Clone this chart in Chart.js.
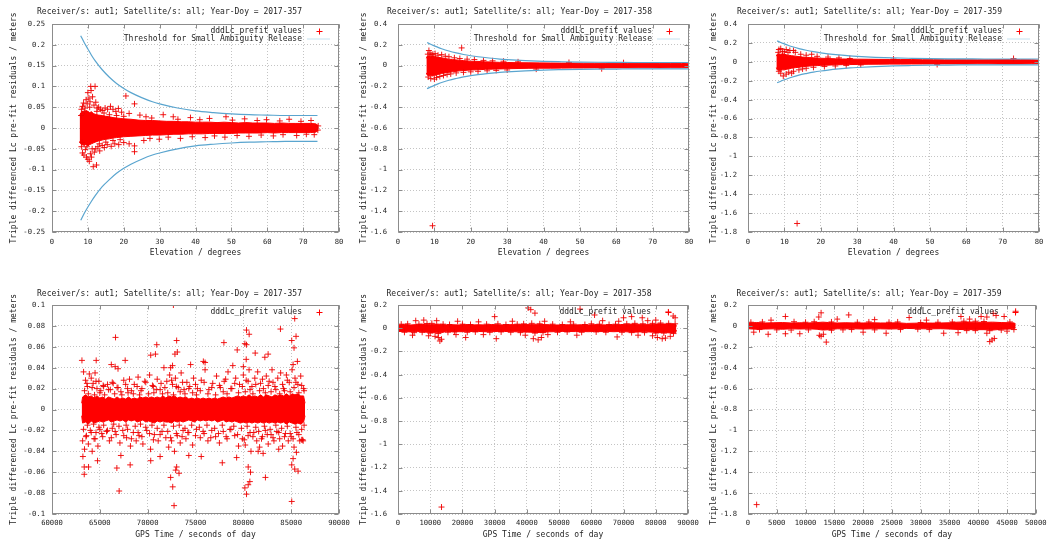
<!DOCTYPE html>
<html><head><meta charset="utf-8">
<script src="https://cdn.jsdelivr.net/npm/chart.js@4.4.1/dist/chart.umd.min.js"></script>
<style>
html,body{margin:0;padding:0;background:#fff;}
#wrap{position:relative;width:1051px;height:542px;overflow:hidden;background:#fff;}
canvas{position:absolute;}
</style></head><body><div id="wrap">
<canvas id="c1"></canvas><canvas id="c2"></canvas><canvas id="c3"></canvas>
<canvas id="c4"></canvas><canvas id="c5"></canvas><canvas id="c6"></canvas>
</div>
<script>
// ---------- titles ----------
const titles = [
  'Receiver/s: aut1; Satellite/s: all; Year-Doy = 2017-357',
  'Receiver/s: aut1; Satellite/s: all; Year-Doy = 2017-358',
  'Receiver/s: aut1; Satellite/s: all; Year-Doy = 2017-359'
];
const yAxisTitle = 'Triple differenced Lc pre-fit residuals / meters';
const xTitleElev = 'Elevation / degrees';
const xTitleTime = 'GPS Time / seconds of day';
const legendPoints = 'dddLc_prefit values';
const legendThreshold = 'Threshold for Small Ambiguity Release';

// ---------- tick values / labels ----------
const elevTicks = [0,10,20,30,40,50,60,70,80];
const elevTickLabels = ['0','10','20','30','40','50','60','70','80'];
const p1YTicks = [-0.25,-0.2,-0.15,-0.1,-0.05,0,0.05,0.1,0.15,0.2,0.25];
const p1YTickLabels = ['-0.25','-0.2','-0.15','-0.1','-0.05','0','0.05','0.1','0.15','0.2','0.25'];
const p2YTicks = [-1.6,-1.4,-1.2,-1,-0.8,-0.6,-0.4,-0.2,0,0.2,0.4];
const p2YTickLabels = ['-1.6','-1.4','-1.2','-1','-0.8','-0.6','-0.4','-0.2','0','0.2','0.4'];
const p3YTicks = [-1.8,-1.6,-1.4,-1.2,-1,-0.8,-0.6,-0.4,-0.2,0,0.2,0.4];
const p3YTickLabels = ['-1.8','-1.6','-1.4','-1.2','-1','-0.8','-0.6','-0.4','-0.2','0','0.2','0.4'];
const p4XTicks = [60000,65000,70000,75000,80000,85000,90000];
const p4XTickLabels = ['60000','65000','70000','75000','80000','85000','90000'];
const p4YTicks = [-0.1,-0.08,-0.06,-0.04,-0.02,0,0.02,0.04,0.06,0.08,0.1];
const p4YTickLabels = ['-0.1','-0.08','-0.06','-0.04','-0.02','0','0.02','0.04','0.06','0.08','0.1'];
const p5XTicks = [0,10000,20000,30000,40000,50000,60000,70000,80000,90000];
const p5XTickLabels = ['0','10000','20000','30000','40000','50000','60000','70000','80000','90000'];
const p5YTicks = [-1.6,-1.4,-1.2,-1,-0.8,-0.6,-0.4,-0.2,0,0.2];
const p5YTickLabels = ['-1.6','-1.4','-1.2','-1','-0.8','-0.6','-0.4','-0.2','0','0.2'];
const p6XTicks = [0,5000,10000,15000,20000,25000,30000,35000,40000,45000,50000];
const p6XTickLabels = ['0','5000','10000','15000','20000','25000','30000','35000','40000','45000','50000'];
const p6YTicks = [-1.8,-1.6,-1.4,-1.2,-1,-0.8,-0.6,-0.4,-0.2,0,0.2];
const p6YTickLabels = ['-1.8','-1.6','-1.4','-1.2','-1','-0.8','-0.6','-0.4','-0.2','0','0.2'];

// ---------- threshold curves (elevation panels) ----------
const thrX1 = [8,9,10,11,12,14,16,18,20,22,25,28,30,35,40,45,50,55,60,65,70,74];
const thrHi1 = [0.222,0.205,0.19,0.175,0.162,0.14,0.122,0.107,0.095,0.085,0.073,0.063,0.058,0.048,0.041,0.037,0.034,0.032,0.031,0.03,0.03,0.03];
const thrLo1 = [-0.222,-0.205,-0.19,-0.176,-0.163,-0.141,-0.124,-0.109,-0.097,-0.087,-0.075,-0.065,-0.06,-0.05,-0.043,-0.039,-0.036,-0.034,-0.033,-0.032,-0.032,-0.032];
const thrX2 = [8,9,10,11,12,14,16,18,20,22,25,28,30,35,40,45,50,55,60,65,70,75,80];
const thrHi2 = [0.222,0.205,0.19,0.175,0.162,0.14,0.122,0.107,0.095,0.085,0.073,0.063,0.058,0.048,0.041,0.037,0.034,0.032,0.031,0.03,0.03,0.03,0.03];
const thrLo2 = [-0.222,-0.205,-0.19,-0.176,-0.163,-0.141,-0.124,-0.109,-0.097,-0.087,-0.075,-0.065,-0.06,-0.05,-0.043,-0.039,-0.036,-0.034,-0.033,-0.032,-0.032,-0.032,-0.032];

// ---------- dense core of residuals: [x, upper, lower] ----------
const p1Band = [[7.7,0.03,-0.032],[8,0.036,-0.038],[8.5,0.04,-0.04],[9,0.038,-0.042],[9.5,0.042,-0.039],[10,0.04,-0.043],[10.5,0.037,-0.04],[11,0.039,-0.038],[11.5,0.035,-0.036],[12,0.033,-0.034],
 [13,0.031,-0.031],[14,0.03,-0.029],[15,0.028,-0.027],[16,0.027,-0.026],[17,0.025,-0.024],[18,0.024,-0.023],[19,0.023,-0.022],[20,0.022,-0.021],
 [22,0.021,-0.02],[24,0.019,-0.019],[26,0.018,-0.018],[28,0.018,-0.017],[30,0.017,-0.017],[32,0.016,-0.016],[34,0.016,-0.015],[36,0.015,-0.015],[38,0.015,-0.014],[40,0.014,-0.014],
 [42,0.014,-0.014],[44,0.014,-0.013],[46,0.013,-0.013],[48,0.014,-0.013],[50,0.013,-0.013],[52,0.012,-0.012],[54,0.013,-0.012],[56,0.012,-0.012],[58,0.012,-0.012],[60,0.012,-0.011],
 [62,0.011,-0.012],[64,0.012,-0.011],[66,0.011,-0.011],[68,0.011,-0.011],[70,0.011,-0.011],[72,0.011,-0.011],[73.5,0.01,-0.01],[74.2,0.006,-0.006]];
const p2Band = [[7.8,0.07,-0.07],[8,0.09,-0.09],[8.5,0.095,-0.1],[9,0.09,-0.095],[9.5,0.095,-0.1],[10,0.09,-0.095],[10.5,0.085,-0.09],[11,0.08,-0.085],[12,0.075,-0.075],[13,0.068,-0.07],
 [14,0.062,-0.065],[15,0.058,-0.06],[16,0.055,-0.055],[17,0.052,-0.05],[18,0.048,-0.048],[19,0.045,-0.045],[20,0.042,-0.043],[22,0.04,-0.04],[24,0.036,-0.036],[26,0.034,-0.034],
 [28,0.031,-0.032],[30,0.03,-0.03],[33,0.028,-0.028],[36,0.027,-0.026],[39,0.026,-0.025],[42,0.025,-0.025],[45,0.024,-0.024],[48,0.024,-0.023],[51,0.023,-0.023],[54,0.023,-0.022],
 [57,0.022,-0.022],[60,0.022,-0.022],[63,0.021,-0.022],[66,0.022,-0.021],[69,0.021,-0.021],[72,0.021,-0.022],[75,0.021,-0.021],[78,0.021,-0.021],[79.8,0.018,-0.018]];
const p3Band = [[7.8,0.06,-0.06],[8,0.08,-0.085],[8.5,0.085,-0.09],[9,0.08,-0.09],[9.5,0.085,-0.085],[10,0.08,-0.085],[10.5,0.075,-0.08],[11,0.07,-0.075],[12,0.065,-0.068],[13,0.06,-0.062],
 [14,0.055,-0.057],[15,0.05,-0.052],[16,0.048,-0.048],[17,0.045,-0.045],[18,0.043,-0.042],[19,0.04,-0.04],[20,0.038,-0.038],[22,0.035,-0.035],[24,0.032,-0.032],[26,0.03,-0.03],
 [28,0.029,-0.029],[30,0.028,-0.028],[33,0.027,-0.026],[36,0.026,-0.025],[39,0.025,-0.024],[42,0.024,-0.024],[45,0.024,-0.023],[48,0.023,-0.023],[51,0.023,-0.022],[54,0.022,-0.022],
 [57,0.022,-0.022],[60,0.022,-0.022],[63,0.021,-0.021],[66,0.022,-0.021],[69,0.023,-0.022],[72,0.024,-0.023],[75,0.022,-0.022],[78,0.021,-0.021],[79.8,0.018,-0.018]];
const p4Band = [[63100,0.006,-0.006],[63200,0.012,-0.013],[63500,0.014,-0.012],[63800,0.012,-0.014],[64100,0.013,-0.011],[64400,0.011,-0.013],[64700,0.013,-0.012],[65000,0.011,-0.011],
 [65300,0.012,-0.012],[65600,0.01,-0.011],[65900,0.012,-0.01],[66200,0.011,-0.012],[66500,0.01,-0.011],[66800,0.012,-0.01],[67100,0.01,-0.011],[67400,0.011,-0.01],[67700,0.01,-0.012],
 [68000,0.012,-0.01],[68300,0.01,-0.011],[68600,0.011,-0.01],[68900,0.01,-0.012],[69200,0.012,-0.011],[69500,0.011,-0.01],[69800,0.012,-0.012],[70100,0.011,-0.011],[70400,0.012,-0.012],
 [70700,0.011,-0.013],[71000,0.012,-0.011],[71300,0.011,-0.012],[71600,0.013,-0.011],[71900,0.011,-0.012],[72200,0.013,-0.012],[72500,0.012,-0.013],[72800,0.013,-0.011],[73100,0.011,-0.012],
 [73400,0.012,-0.011],[73700,0.011,-0.012],[74000,0.012,-0.011],[74300,0.01,-0.01],[74600,0.011,-0.011],[74900,0.01,-0.012],[75200,0.011,-0.01],[75500,0.01,-0.011],[75800,0.011,-0.01],
 [76100,0.01,-0.011],[76400,0.011,-0.01],[76700,0.01,-0.011],[77000,0.011,-0.01],[77300,0.01,-0.012],[77600,0.011,-0.011],[77900,0.012,-0.01],[78200,0.011,-0.012],[78500,0.012,-0.011],
 [78800,0.011,-0.012],[79100,0.012,-0.011],[79400,0.013,-0.012],[79700,0.012,-0.013],[80000,0.013,-0.012],[80300,0.012,-0.013],[80600,0.014,-0.012],[80900,0.012,-0.013],[81200,0.013,-0.012],
 [81500,0.012,-0.013],[81800,0.014,-0.012],[82100,0.012,-0.013],[82400,0.014,-0.012],[82700,0.013,-0.013],[83000,0.012,-0.012],[83300,0.014,-0.013],[83600,0.013,-0.012],[83900,0.014,-0.013],
 [84200,0.013,-0.012],[84500,0.015,-0.014],[84800,0.013,-0.012],[85100,0.015,-0.013],[85400,0.014,-0.014],[85700,0.015,-0.013],[86000,0.013,-0.014],[86300,0.013,-0.012],[86450,0.006,-0.006]];
const p5Band = [[0,0.015,-0.015],[300,0.028,-0.028],[2000,0.032,-0.028],[4000,0.028,-0.032],[6000,0.032,-0.028],[8000,0.036,-0.033],[10000,0.033,-0.036],[12000,0.036,-0.04],[13500,0.033,-0.038],
 [15000,0.028,-0.028],[17000,0.03,-0.028],[19000,0.028,-0.03],[21000,0.032,-0.03],[23000,0.028,-0.028],[25000,0.03,-0.028],[27000,0.028,-0.03],[29000,0.032,-0.03],[31000,0.03,-0.028],
 [33000,0.028,-0.028],[35000,0.031,-0.029],[37000,0.03,-0.031],[39000,0.032,-0.032],[41000,0.033,-0.034],[43000,0.035,-0.038],[45000,0.032,-0.034],[47000,0.03,-0.031],[49000,0.028,-0.029],
 [51000,0.028,-0.028],[53000,0.03,-0.028],[55000,0.028,-0.029],[57000,0.03,-0.028],[59000,0.028,-0.03],[61000,0.031,-0.028],[63000,0.029,-0.029],[65000,0.028,-0.028],[67000,0.03,-0.03],
 [69000,0.031,-0.028],[71000,0.034,-0.031],[73000,0.036,-0.034],[75000,0.034,-0.032],[77000,0.033,-0.031],[79000,0.034,-0.034],[81000,0.038,-0.038],[83000,0.036,-0.038],[85000,0.038,-0.041],
 [86200,0.034,-0.038],[86400,0.015,-0.015]];
const p6Band = [[0,0.015,-0.015],[200,0.028,-0.028],[1500,0.032,-0.032],[3000,0.028,-0.03],[4500,0.03,-0.028],[6000,0.032,-0.032],[7500,0.028,-0.028],[9000,0.03,-0.03],[10500,0.028,-0.028],
 [12000,0.032,-0.032],[13000,0.036,-0.04],[14000,0.032,-0.036],[15500,0.028,-0.028],[17000,0.03,-0.028],[18500,0.028,-0.028],[20000,0.028,-0.03],[21500,0.03,-0.028],[23000,0.028,-0.028],
 [24500,0.028,-0.03],[26000,0.03,-0.028],[27500,0.024,-0.024],[29000,0.026,-0.026],[30500,0.028,-0.028],[32000,0.027,-0.028],[33500,0.028,-0.027],[35000,0.03,-0.03],[36500,0.036,-0.034],
 [38000,0.038,-0.036],[39500,0.036,-0.036],[41000,0.034,-0.036],[42500,0.036,-0.04],[44000,0.032,-0.032],[45500,0.03,-0.03],[46300,0.028,-0.028],[46500,0.015,-0.015]];

// ---------- individual residual points: [x, y] ----------
const p1Scatter = [[8.2,0.045],[8.5,0.052],[8.8,0.06],[9.2,0.048],[9.5,0.068],[9.8,0.058],[10,0.085],[10.3,0.072],[10.6,0.063],[10.9,0.09],[10.8,0.1],[12,0.1],[11.3,0.075],[11.7,0.055],
 [12.2,0.062],[12.6,0.048],[13,0.05],[13.5,0.045],[14,0.042],[14.8,0.048],[15.5,0.045],[16.3,0.052],[17,0.045],[17.8,0.04],[18.5,0.047],[19.4,0.038],[20.6,0.077],[21.5,0.035],[23,0.058],
 [24.5,0.031],[26.2,0.027],[27.8,0.024],[31,0.032],[33.8,0.027],[35.1,0.021],[38.6,0.025],[41.2,0.02],[43.9,0.023],[48.5,0.027],[50.3,0.019],[53.7,0.022],[57.2,0.018],[59.8,0.02],
 [63.5,0.017],[66.1,0.021],[69.4,0.016],[72.2,0.018],
 [8.2,-0.045],[8.5,-0.06],[8.9,-0.065],[9.3,-0.052],[9.6,-0.07],[10,-0.075],[10.4,-0.08],[10.7,-0.062],[11,-0.07],[11.5,-0.093],[12.4,-0.089],[11.8,-0.058],[12.2,-0.05],[12.8,-0.045],
 [13.3,-0.055],[14,-0.042],[14.6,-0.047],[15.4,-0.04],[16.5,-0.044],[17.5,-0.038],[18.6,-0.04],[20,-0.035],[21.5,-0.038],[23,-0.043],[23,-0.057],
 [25.6,-0.03],[27.3,-0.025],[29.9,-0.027],[32.4,-0.022],[35.8,-0.025],[39.1,-0.021],[42.7,-0.023],[45.3,-0.019],[48.2,-0.022],[51.6,-0.018],[54.9,-0.02],[58.3,-0.017],[61.7,-0.019],
 [64.4,-0.016],[68.2,-0.018],[70.9,-0.015],[73.1,-0.016],[74.2,0.005],[74.1,-0.005],
 [8.1,0.03],[8.4,-0.035],[9,0.04],[9.7,-0.045],[10.5,0.05],[11.2,-0.05],[12.5,0.04],[13.2,-0.038],[14.5,0.036],[15,-0.034],[16,0.032],[17,-0.03],[18,0.03],[19,-0.028],[20,0.028]];
const p2Scatter = [[8.2,0.11],[8.5,0.145],[8.8,0.12],[9.1,0.105],[9.6,0.11],[10.2,0.115],[11,0.1],[12,0.105],[13,0.09],[14,0.085],[15.5,0.075],[17.5,0.17],[17,0.068],[19,0.062],
 [21,0.058],[23.5,0.05],[26,0.046],[29,0.042],[33,0.036],[47,0.03],[62,0.028],
 [8.3,-0.11],[9,-0.125],[9.5,-1.54],[10,-0.13],[10.6,-0.115],[11.5,-0.105],[12.5,-0.095],[13.5,-0.085],[14.5,-0.08],[16,-0.07],[18,-0.065],[20,-0.06],[22,-0.055],[24.5,-0.05],
 [27,-0.046],[30,-0.042],[38,-0.034],[56,-0.03]];
const p3Scatter = [[8.3,0.1],[8.5,0.13],[9,0.14],[9.5,0.11],[10,0.105],[10.5,0.13],[11,0.1],[11.5,0.12],[12.5,0.12],[13,0.1],[14.5,0.08],[17.5,0.08],[16,0.07],[19,0.058],[22,0.05],
 [25,0.042],[28,0.035],[40,0.029],[73,0.035],
 [8.5,-0.1],[9,-0.12],[9.7,-0.15],[10.5,-0.13],[11.2,-0.11],[12,-0.12],[12.5,-0.1],[13.5,-1.71],[14,-0.085],[15,-0.075],[16,-0.068],[18,-0.058],[21,-0.05],[24,-0.044],
 [27,-0.038],[31,-0.033],[52,-0.028]];
const p4Outliers = [[63130,0.047],[64620,0.047],[66640,0.069],[66200,0.043],[66600,0.041],[66900,0.039],[67650,0.047],[70320,0.052],[70810,0.053],[70950,0.062],[72690,0.1],[73030,0.066],
 [72850,0.053],[73100,0.055],[72400,0.04],[72600,0.042],[74490,0.043],[75820,0.046],[76000,0.045],[77970,0.064],[79360,0.057],[78900,0.042],[80160,0.063],[80330,0.062],[80330,0.076],
 [80610,0.072],[80300,0.048],[80000,0.041],[81240,0.054],[82250,0.05],[82590,0.053],[83880,0.077],[85060,0.066],[85300,0.059],[85370,0.087],[85510,0.07],[85650,0.046],[85200,0.043],
 [63370,-0.062],[63370,-0.055],[63820,-0.055],[63230,-0.045],[64760,-0.049],[66780,-0.056],[67020,-0.078],[67200,-0.044],[68170,-0.053],[70320,-0.049],[71300,-0.045],[72400,-0.065],
 [72620,-0.074],[72760,-0.092],[73030,-0.055],[72930,-0.058],[73280,-0.061],[74300,-0.044],[75600,-0.045],[77800,-0.051],[79300,-0.046],[80160,-0.075],[80330,-0.081],[80510,-0.072],
 [80680,-0.069],[80510,-0.055],[80750,-0.06],[81550,-0.04],[82310,-0.065],[82070,-0.042],[83700,-0.038],[85060,-0.088],[85060,-0.053],[85370,-0.057],[85720,-0.059],[85200,-0.047],
 [85550,-0.041],[86100,-0.029],[86250,-0.03]];
const p4Spread = [[63300,0.036],[63500,0.028],[63700,0.022],[63900,0.034],[64100,0.03],[64300,0.025],[64500,0.035],[64700,0.02],[64900,0.027],[65100,0.018],[65400,0.022],[65800,0.024],[66100,0.019],
 [66400,0.025],[66900,0.021],[67200,0.017],[67500,0.028],[67900,0.02],[68300,0.018],[68600,0.024],[69000,0.031],[69400,0.02],[69800,0.026],[70200,0.033],[70600,0.022],[71000,0.029],
 [71300,0.019],[71700,0.04],[72000,0.027],[72300,0.033],[72600,0.024],[72900,0.03],[73200,0.021],[73500,0.035],[73800,0.019],[74100,0.026],[74400,0.022],[74800,0.03],[75200,0.02],
 [75600,0.028],[76000,0.038],[76400,0.019],[76800,0.025],[77200,0.032],[77600,0.021],[78000,0.027],[78400,0.036],[78800,0.02],[79200,0.03],[79600,0.024],[80000,0.033],[80300,0.028],
 [80600,0.038],[80900,0.022],[81200,0.03],[81500,0.036],[81800,0.025],[82100,0.02],[82400,0.032],[82700,0.027],[83000,0.038],[83300,0.022],[83600,0.03],[83900,0.035],[84200,0.02],
 [84500,0.033],[84800,0.026],[85100,0.038],[85400,0.03],[85700,0.024],[86000,0.032],[86300,0.02],
 [63200,-0.03],[63400,-0.038],[63600,-0.025],[63800,-0.033],[64000,-0.02],[64200,-0.04],[64400,-0.028],[64600,-0.022],[64800,-0.035],[65000,-0.019],[65300,-0.026],[65700,-0.021],
 [66000,-0.03],[66300,-0.018],[66700,-0.024],[67100,-0.032],[67400,-0.02],[67800,-0.027],[68200,-0.035],[68500,-0.022],[68800,-0.03],[69100,-0.025],[69500,-0.033],[69900,-0.02],
 [70300,-0.038],[70700,-0.024],[71100,-0.03],[71500,-0.021],[71900,-0.027],[72200,-0.036],[72500,-0.03],[72800,-0.04],[73100,-0.025],[73400,-0.032],[73700,-0.02],[74000,-0.028],
 [74300,-0.022],[74700,-0.034],[75100,-0.019],[75500,-0.027],[75900,-0.023],[76300,-0.03],[76700,-0.02],[77100,-0.026],[77500,-0.032],[77900,-0.021],[78300,-0.028],[78700,-0.019],
 [79100,-0.025],[79500,-0.035],[79900,-0.028],[80200,-0.034],[80500,-0.025],[80800,-0.04],[81100,-0.022],[81400,-0.03],[81700,-0.036],[82000,-0.026],[82300,-0.02],[82600,-0.033],
 [82900,-0.024],[83200,-0.03],[83500,-0.021],[83800,-0.028],[84100,-0.035],[84400,-0.023],[84700,-0.03],[85000,-0.026],[85300,-0.036],[85600,-0.022],[85900,-0.03],[86200,-0.029]];
const p4Edge = [[63400,0.018],[63650,0.025],[63800,0.015],[64200,0.021],[64450,0.014],[64600,0.027],[65000,0.016],[65350,0.023],[65500,0.014],[65900,0.019],[66300,0.026],[66550,0.015],
 [66800,0.021],[67300,0.014],[67700,0.024],[67950,0.016],[68100,0.029],[68500,0.015],[68900,0.022],[69150,0.014],[69300,0.018],[69700,0.027],[70100,0.015],[70500,0.023],[70650,0.016],
 [70900,0.019],[71400,0.025],[71550,0.015],[71800,0.021],[72100,0.016],[72500,0.028],[72700,0.014],[73000,0.022],[73400,0.017],[73650,0.026],[73900,0.015],[74300,0.02],[74700,0.016],
 [75000,0.024],[75100,0.014],[75500,0.018],[75900,0.026],[76300,0.015],[76700,0.021],[77100,0.014],[77500,0.023],[77900,0.017],[78150,0.029],[78300,0.015],[78700,0.02],[79100,0.025],
 [79500,0.016],[79900,0.022],[80200,0.017],[80500,0.027],[80700,0.019],[81000,0.015],[81300,0.024],[81700,0.018],[82000,0.029],[82300,0.016],[82600,0.023],[82900,0.017],[83100,0.026],
 [83400,0.019],[83800,0.015],[84100,0.024],[84300,0.018],[84600,0.028],[84900,0.017],[85300,0.021],[85500,0.026],[85800,0.016],[86100,0.023],[86350,0.018],
 [63300,-0.019],[63550,-0.026],[63700,-0.015],[64100,-0.022],[64350,-0.014],[64500,-0.028],[64900,-0.017],[65200,-0.023],[65400,-0.015],[65800,-0.02],[66200,-0.027],[66450,-0.014],
 [66600,-0.021],[67000,-0.016],[67500,-0.025],[67750,-0.015],[67900,-0.019],[68300,-0.028],[68700,-0.016],[69000,-0.022],[69250,-0.014],[69400,-0.026],[69800,-0.017],[70200,-0.023],
 [70450,-0.015],[70600,-0.029],[71000,-0.018],[71300,-0.024],[71700,-0.015],[72100,-0.021],[72400,-0.027],[72700,-0.016],[73000,-0.023],[73300,-0.015],[73600,-0.026],[73900,-0.018],
 [74200,-0.022],[74600,-0.015],[75000,-0.025],[75400,-0.017],[75800,-0.021],[76200,-0.015],[76600,-0.027],[77000,-0.018],[77400,-0.023],[77800,-0.015],[78200,-0.026],[78600,-0.019],
 [79000,-0.016],[79400,-0.024],[79800,-0.018],[80100,-0.029],[80400,-0.016],[80700,-0.022],[81000,-0.026],[81300,-0.017],[81600,-0.021],[81900,-0.028],[82200,-0.016],[82500,-0.024],
 [82800,-0.019],[83100,-0.027],[83400,-0.015],[83700,-0.022],[84000,-0.018],[84300,-0.026],[84600,-0.016],[84900,-0.023],[85200,-0.028],[85500,-0.017],[85800,-0.024],[86100,-0.019],
 [86350,-0.015]];
const p5Scatter = [[13500,-1.54],[40400,0.175],[41200,0.16],[42500,0.13],[56500,0.165],[61000,0.114],[83900,0.14],[85400,0.105],[86000,0.09],[30000,0.1],[72500,0.1],[70000,0.09],
 [75800,0.09],[13000,-0.11],[13500,-0.095],[12500,-0.08],[21000,-0.08],[43500,-0.1],[42000,-0.09],[44500,-0.08],[30500,-0.09],[68000,-0.075],[80500,-0.08],[82000,-0.09],[83000,-0.085],
 [5500,0.065],[8000,0.07],[12000,0.065],[18500,0.06],[25000,0.055],[35500,0.06],[45500,0.06],[53500,0.055],[63500,0.065],[68500,0.06],[77500,0.065],[80000,0.07],
 [4500,-0.06],[9500,-0.065],[11500,-0.07],[18000,-0.055],[26500,-0.055],[39500,-0.06],[46500,-0.055],[55500,-0.06],[74500,-0.06],[79000,-0.065],[84500,-0.07],
 [1000,0.035],[3000,0.038],[6500,0.035],[9000,0.04],[10500,0.042],[14000,0.035],[16000,0.032],[20000,0.035],[22500,0.032],[27500,0.035],[31000,0.038],[33500,0.032],[37000,0.035],
 [39000,0.038],[41500,0.042],[44000,0.038],[48000,0.035],[51000,0.032],[54500,0.035],[58000,0.032],[60000,0.038],[62500,0.035],[65500,0.032],[67500,0.035],[71000,0.038],[73500,0.042],
 [76000,0.038],[79000,0.042],[81500,0.045],[84000,0.042],[86000,0.038],
 [2000,-0.035],[5000,-0.038],[7500,-0.035],[10000,-0.042],[12500,-0.046],[15500,-0.035],[17500,-0.032],[21500,-0.035],[24000,-0.032],[28500,-0.035],[32000,-0.032],[35000,-0.035],
 [38000,-0.038],[42500,-0.042],[45000,-0.038],[49500,-0.035],[52500,-0.032],[57000,-0.035],[61500,-0.032],[64500,-0.035],[69500,-0.035],[72500,-0.038],[76500,-0.038],[80000,-0.042],
 [82500,-0.042],[85500,-0.046]];
const p6Scatter = [[1500,-1.71],[46500,0.14],[12700,0.125],[12300,0.085],[17500,0.105],[13600,-0.155],[12700,-0.1],[13100,-0.08],[12400,-0.09],[42000,-0.15],[42400,-0.135],[42800,-0.12],
 [42600,0.12],[43100,0.1],[40500,0.09],[41500,0.085],[37000,0.09],[44500,0.09],[6500,0.09],[28000,0.08],[6500,-0.075],[3500,-0.08],[9000,-0.075],[24000,-0.07],[1000,-0.06],
 [34000,-0.07],[20000,-0.06],[41500,-0.07],[36500,-0.065],[45000,-0.05],[15500,0.065],[4000,0.055],[22000,0.06],[31000,0.055],[38500,0.065],
 [500,0.035],[2500,0.038],[8000,0.04],[10000,0.035],[11500,0.04],[14500,0.038],[19000,0.035],[21000,0.038],[24500,0.035],[26000,0.038],[30000,0.032],[33000,0.035],[35500,0.038],
 [37500,0.045],[39500,0.045],[41000,0.042],[45500,0.038],
 [2000,-0.035],[5000,-0.038],[7500,-0.04],[10500,-0.038],[14500,-0.042],[16500,-0.038],[18000,-0.035],[22000,-0.038],[26500,-0.035],[29500,-0.032],[31500,-0.035],[38000,-0.045],
 [39500,-0.045],[42000,-0.046],[44000,-0.04],[46200,-0.035]];

// ---------- drawing ----------
const FONT_FAMILY = "'DejaVu Sans Mono', 'Liberation Mono', monospace";
const TXT = '#1e1e1e';
const RED = '#ff0000';
const THR_COLOR = '#5aa5cf';
const GRID = '#c4c4c4';
const FRAME = '#8c8c8c';

const panels = [
  {id:'c1', left:0, top:0, w:360, h:270, area:{l:52,r:339,t:24,b:232}, title:titles[0], xTitle:xTitleElev,
   xMin:0, xMax:80, xTicks:elevTicks, xLabels:elevTickLabels, yMin:-0.25, yMax:0.25, yTicks:p1YTicks, yLabels:p1YTickLabels,
   band:p1Band, scatter:[p1Scatter], thr:[thrX1,thrHi1,thrLo1], legend:[legendPoints, legendThreshold], yPad:7},
  {id:'c2', left:350, top:0, w:360, h:270, area:{l:48,r:339,t:24,b:232}, title:titles[1], xTitle:xTitleElev,
   xMin:0, xMax:80, xTicks:elevTicks, xLabels:elevTickLabels, yMin:-1.6, yMax:0.4, yTicks:p2YTicks, yLabels:p2YTickLabels,
   band:p2Band, scatter:[p2Scatter], thr:[thrX2,thrHi2,thrLo2], legend:[legendPoints, legendThreshold], yPad:11},
  {id:'c3', left:700, top:0, w:351, h:270, area:{l:48,r:339,t:24,b:232}, title:titles[2], xTitle:xTitleElev,
   xMin:0, xMax:80, xTicks:elevTicks, xLabels:elevTickLabels, yMin:-1.8, yMax:0.4, yTicks:p3YTicks, yLabels:p3YTickLabels,
   band:p3Band, scatter:[p3Scatter], thr:[thrX2,thrHi2,thrLo2], legend:[legendPoints, legendThreshold], yPad:11},
  {id:'c4', left:0, top:272, w:360, h:270, area:{l:52,r:339,t:33,b:242}, title:titles[0], xTitle:xTitleTime,
   xMin:60000, xMax:90000, xTicks:p4XTicks, xLabels:p4XTickLabels, yMin:-0.1, yMax:0.1, yTicks:p4YTicks, yLabels:p4YTickLabels,
   band:p4Band, scatter:[p4Outliers, p4Spread, p4Edge], thr:null, legend:[legendPoints], yPad:7},
  {id:'c5', left:350, top:272, w:360, h:270, area:{l:48,r:338,t:33,b:242}, title:titles[1], xTitle:xTitleTime,
   xMin:0, xMax:90000, xTicks:p5XTicks, xLabels:p5XTickLabels, yMin:-1.6, yMax:0.2, yTicks:p5YTicks, yLabels:p5YTickLabels,
   band:p5Band, scatter:[p5Scatter], thr:null, legend:[legendPoints], yPad:11},
  {id:'c6', left:700, top:272, w:351, h:270, area:{l:48,r:338,t:33,b:242}, title:titles[2], xTitle:xTitleTime,
   xMin:0, xMax:50000, xTicks:p6XTicks, xLabels:p6XTickLabels, yMin:-1.8, yMax:0.2, yTicks:p6YTicks, yLabels:p6YTickLabels,
   band:p6Band, scatter:[p6Scatter], thr:null, legend:[legendPoints], yPad:11}
];

const framePlugin = {
  id:'frame',
  afterDatasetsDraw(chart){
    const {ctx, chartArea:a, scales:{x,y}} = chart;
    ctx.save();
    ctx.strokeStyle = FRAME; ctx.lineWidth = 1;
    const L = Math.round(a.left)+0.5, R = Math.round(a.right)-0.5, T = Math.round(a.top)+0.5, B = Math.round(a.bottom)-0.5;
    ctx.strokeRect(L, T, R-L, B-T);
    ctx.beginPath();
    x.ticks.forEach(t => {
      const px = Math.round(x.getPixelForValue(t.value))+0.5;
      ctx.moveTo(px, B); ctx.lineTo(px, B-4);
      ctx.moveTo(px, T); ctx.lineTo(px, T+4);
    });
    y.ticks.forEach(t => {
      const py = Math.round(y.getPixelForValue(t.value))+0.5;
      ctx.moveTo(L, py); ctx.lineTo(L+4, py);
      ctx.moveTo(R, py); ctx.lineTo(R-4, py);
    });
    ctx.stroke();
    ctx.restore();
  }
};

function makeLegendPlugin(p){
  return {
    id:'keybox',
    afterDraw(chart){
      const {ctx, chartArea:a} = chart;
      ctx.save();
      ctx.font = '8px ' + FONT_FAMILY;
      ctx.fillStyle = TXT; ctx.textAlign = 'right'; ctx.textBaseline = 'middle';
      p.legend.forEach((txt, i) => {
        const yy = a.top + 6.5 + i*8;
        ctx.fillText(txt, a.right - 37, yy);
        if (i === 0) {
          const cx = Math.round(a.right - 20.5) + 0.5, cy = Math.round(yy) + 0.5;
          ctx.strokeStyle = RED; ctx.lineWidth = 1;
          ctx.beginPath();
          ctx.moveTo(cx-3, cy); ctx.lineTo(cx+3, cy);
          ctx.moveTo(cx, cy-3); ctx.lineTo(cx, cy+3);
          ctx.stroke();
        } else {
          ctx.strokeStyle = 'rgba(90,165,207,0.35)'; ctx.lineWidth = 1;
          ctx.beginPath(); ctx.moveTo(a.right-32, yy+0.5); ctx.lineTo(a.right-9, yy+0.5); ctx.stroke();
        }
      });
      ctx.restore();
    }
  };
}

function buildPanel(p){
  const cv = document.getElementById(p.id);
  cv.width = p.w; cv.height = p.h;
  cv.style.left = p.left + 'px'; cv.style.top = p.top + 'px';
  cv.style.width = p.w + 'px'; cv.style.height = p.h + 'px';

  const ds = [
    {label:'core-hi', data:p.band.map(b=>({x:b[0], y:b[1]})), borderColor:RED, backgroundColor:RED, borderWidth:1, pointRadius:0, fill:false, tension:0, order:3},
    {label:'core-lo', data:p.band.map(b=>({x:b[0], y:b[2]})), borderColor:RED, backgroundColor:RED, borderWidth:1, pointRadius:0, fill:'-1', tension:0, order:3}
  ];
  p.scatter.forEach(set => {
    ds.push({label:legendPoints, data:set.map(s=>({x:s[0], y:s[1]})), showLine:false, pointStyle:'cross', pointRadius:3,
     pointBorderColor:'rgba(240,0,0,0.9)', pointBackgroundColor:RED, pointBorderWidth:1, borderColor:RED, backgroundColor:RED, order:2});
  });
  if (p.thr) {
    const [tx, th, tl] = p.thr;
    ds.push({label:legendThreshold, data:tx.map((v,i)=>({x:v, y:th[i]})), borderColor:THR_COLOR, borderWidth:1.2, pointRadius:0, fill:false, cubicInterpolationMode:'monotone', order:1});
    ds.push({label:legendThreshold + ' (lower)', data:tx.map((v,i)=>({x:v, y:tl[i]})), borderColor:THR_COLOR, borderWidth:1.2, pointRadius:0, fill:false, cubicInterpolationMode:'monotone', order:1});
  }

  const topRow = p.top === 0;
  const titleCenter = topRow ? 12.3 : 21.7;
  const titlePadTop = titleCenter - 4.8;
  const titlePadBottom = p.area.t - titlePadTop - 9.6;
  const tickFont = {family:FONT_FAMILY, size:7.2, lineHeight:1.2};
  const txtFont = {family:FONT_FAMILY, size:8, weight:'normal', lineHeight:1.2};

  new Chart(cv.getContext('2d'), {
    type:'line',
    data:{datasets:ds},
    options:{
      responsive:false, maintainAspectRatio:false, animation:false, devicePixelRatio:1, events:[],
      layout:{padding:{top:0, left:0, bottom:0, right:p.w - p.area.r}},
      plugins:{
        legend:{display:false}, tooltip:{enabled:false},
        title:{display:true, text:p.title, color:TXT, font:txtFont, padding:{top:titlePadTop, bottom:titlePadBottom}}
      },
      scales:{
        x:{type:'linear', min:p.xMin, max:p.xMax,
           afterBuildTicks:s=>{ s.ticks = p.xTicks.map(v=>({value:v})); },
           afterFit:s=>{ s.height = p.h - p.area.b; },
           ticks:{autoSkip:false, maxRotation:0, minRotation:0, padding: topRow ? 5.7 : 4.4, color:TXT, font:tickFont,
                  callback:(v,i)=>p.xLabels[i]},
           grid:{color:GRID, lineWidth:1, drawTicks:false},
           border:{display:false, dash:[1,2]},
           title:{display:true, text:p.xTitle, color:TXT, font:txtFont, padding:{top:0, bottom: topRow ? 12.2 : 1.9}}
        },
        y:{type:'linear', min:p.yMin, max:p.yMax,
           afterBuildTicks:s=>{ s.ticks = p.yTicks.map(v=>({value:v})); },
           afterFit:s=>{ s.width = p.area.l; },
           ticks:{autoSkip:false, padding:p.yPad, color:TXT, font:tickFont, callback:(v,i)=>p.yLabels[i]},
           grid:{color:GRID, lineWidth:1, drawTicks:false},
           border:{display:false, dash:[1,2]},
           title:{display:true, text:yAxisTitle, color:TXT, font:txtFont, padding:{top:9.2, bottom:0}}
        }
      }
    },
    plugins:[framePlugin, makeLegendPlugin(p)]
  });
}

panels.forEach(buildPanel);
</script>
</body></html>
